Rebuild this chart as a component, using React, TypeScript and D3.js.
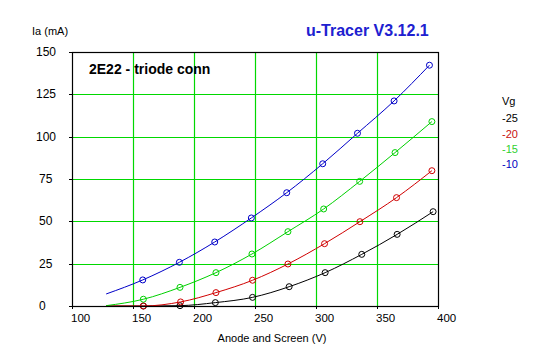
import React from "react";
import * as d3 from "d3";

const xTicks = [100, 150, 200, 250, 300, 350, 400];
const yTicks = [0, 25, 50, 75, 100, 125, 150];

const seriesNames = ["-25", "-20", "-15", "-10"];
const seriesColors = ["#000000", "#d00000", "#00d000", "#0000c8"];
const legendColors = ["#000000", "#c81010", "#30d030", "#0000c0"];

const blackV = [158.5, 188.5, 217.5, 248, 278, 307.5, 337.5, 366.5, 396];
const blackI = [0, 0.2, 2, 5.1, 11.4, 19.7, 30.5, 42.3, 55.7];
const redV = [158.5, 189, 218, 248, 277, 307, 336, 366, 395];
const redI = [0, 2.4, 7.9, 15.2, 24.8, 36.8, 49.8, 64, 79.9];
const greenV = [158.5, 188.5, 218, 247.5, 277, 306.3, 335.8, 364.8, 395];
const greenI = [4, 11, 19.7, 30.7, 43.9, 57.3, 73.6, 90.6, 108.9];
const blueV = [158, 188, 217, 247, 276, 305.5, 334, 364, 393];
const blueI = [15.4, 25.8, 37.8, 52, 66.9, 84, 102, 121.1, 142.2];

// start of the fitted curve for each series (V, mA)
const fitStartV = [128, 128, 128, 128];
const fitStartI = [0, 0, 0.2, 7.1];

const seriesV = [blackV, redV, greenV, blueV];
const seriesI = [blackI, redI, greenI, blueI];

export default function App() {
  const W = 547, H = 357;
  const left = 72, right = 438, top = 52, bottom = 306;
  const x = d3.scaleLinear().domain([100, 400]).range([left, right]);
  const y = d3.scaleLinear().domain([0, 150]).range([bottom, top]);
  const px = (v: number) => Math.round(v) + 0.5;
  const line = d3
    .line<[number, number]>()
    .x((d) => x(d[0]))
    .y((d) => y(d[1]))
    .curve(d3.curveMonotoneX);

  const font = "'Liberation Sans', Arial, sans-serif";

  return (
    <svg
      width={W}
      height={H}
      style={{ position: "fixed", left: 0, top: 0, background: "#fff" }}
      fontFamily={font}
    >
      <rect x={0} y={0} width={W} height={H} fill="#fff" />
      {/* grid */}
      {xTicks.slice(1, -1).map((t) => (
        <line key={"gx" + t} x1={px(x(t))} x2={px(x(t))} y1={top} y2={bottom} stroke="#00d800" strokeWidth={1.2} />
      ))}
      {yTicks.slice(1, -1).map((t) => (
        <line key={"gy" + t} x1={left - 2} x2={right} y1={px(y(t))} y2={px(y(t))} stroke="#00d800" strokeWidth={1.2} />
      ))}
      {/* series */}
      {seriesV.map((vs, k) => {
        const pts: [number, number][] = [[fitStartV[k], fitStartI[k]]];
        vs.forEach((v, i) => pts.push([v, seriesI[k][i]]));
        return (
          <g key={"s" + k}>
            <path d={line(pts) || ""} fill="none" stroke={seriesColors[k]} strokeWidth={1} />
            {vs.map((v, i) => (
              <circle
                key={i}
                cx={x(v)}
                cy={y(seriesI[k][i])}
                r={3}
                fill="none"
                stroke={seriesColors[k]}
                strokeWidth={1}
              />
            ))}
          </g>
        );
      })}
      {/* frame */}
      <rect x={px(left)} y={px(top)} width={Math.round(right - left)} height={Math.round(bottom - top)} fill="none" stroke="#000" strokeWidth={1.2} />
      {yTicks.map((t) => (
        <line key={"ty" + t} x1={left - 3} x2={left} y1={px(y(t))} y2={px(y(t))} stroke="#000" />
      ))}
      {xTicks.map((t) => (
        <line key={"tx" + t} x1={px(x(t))} x2={px(x(t))} y1={bottom} y2={bottom + 3} stroke="#000" />
      ))}
      {/* tick labels */}
      {yTicks.map((t) => (
        <text key={"ly" + t} x={String(t).length === 3 ? 36 : 39} y={y(t) + 4} fontSize={12} fill="#000">
          {t}
        </text>
      ))}
      {xTicks.map((t) => (
        <text key={"lx" + t} x={x(t) - 1} y={322} fontSize={11.5} fill="#000">
          {t}
        </text>
      ))}
      {/* axis titles */}
      <text x={32} y={35} fontSize={11} fill="#000">Ia (mA)</text>
      <text x={272} y={342} fontSize={11} textAnchor="middle" fill="#000">Anode and Screen (V)</text>
      {/* titles */}
      <text x={306} y={36} fontSize={16} fontWeight="bold" fill="#2020d0">u-Tracer V3.12.1</text>
      <text x={89} y={74} fontSize={14} fontWeight="bold" fill="#000">2E22 - triode conn</text>
      {/* legend */}
      <text x={502} y={105} fontSize={11} fill="#000">Vg</text>
      {seriesNames.map((n, k) => (
        <text key={"lg" + k} x={502} y={122.3 + k * 15.3} fontSize={11} fill={legendColors[k]}>
          {n}
        </text>
      ))}
    </svg>
  );
}
